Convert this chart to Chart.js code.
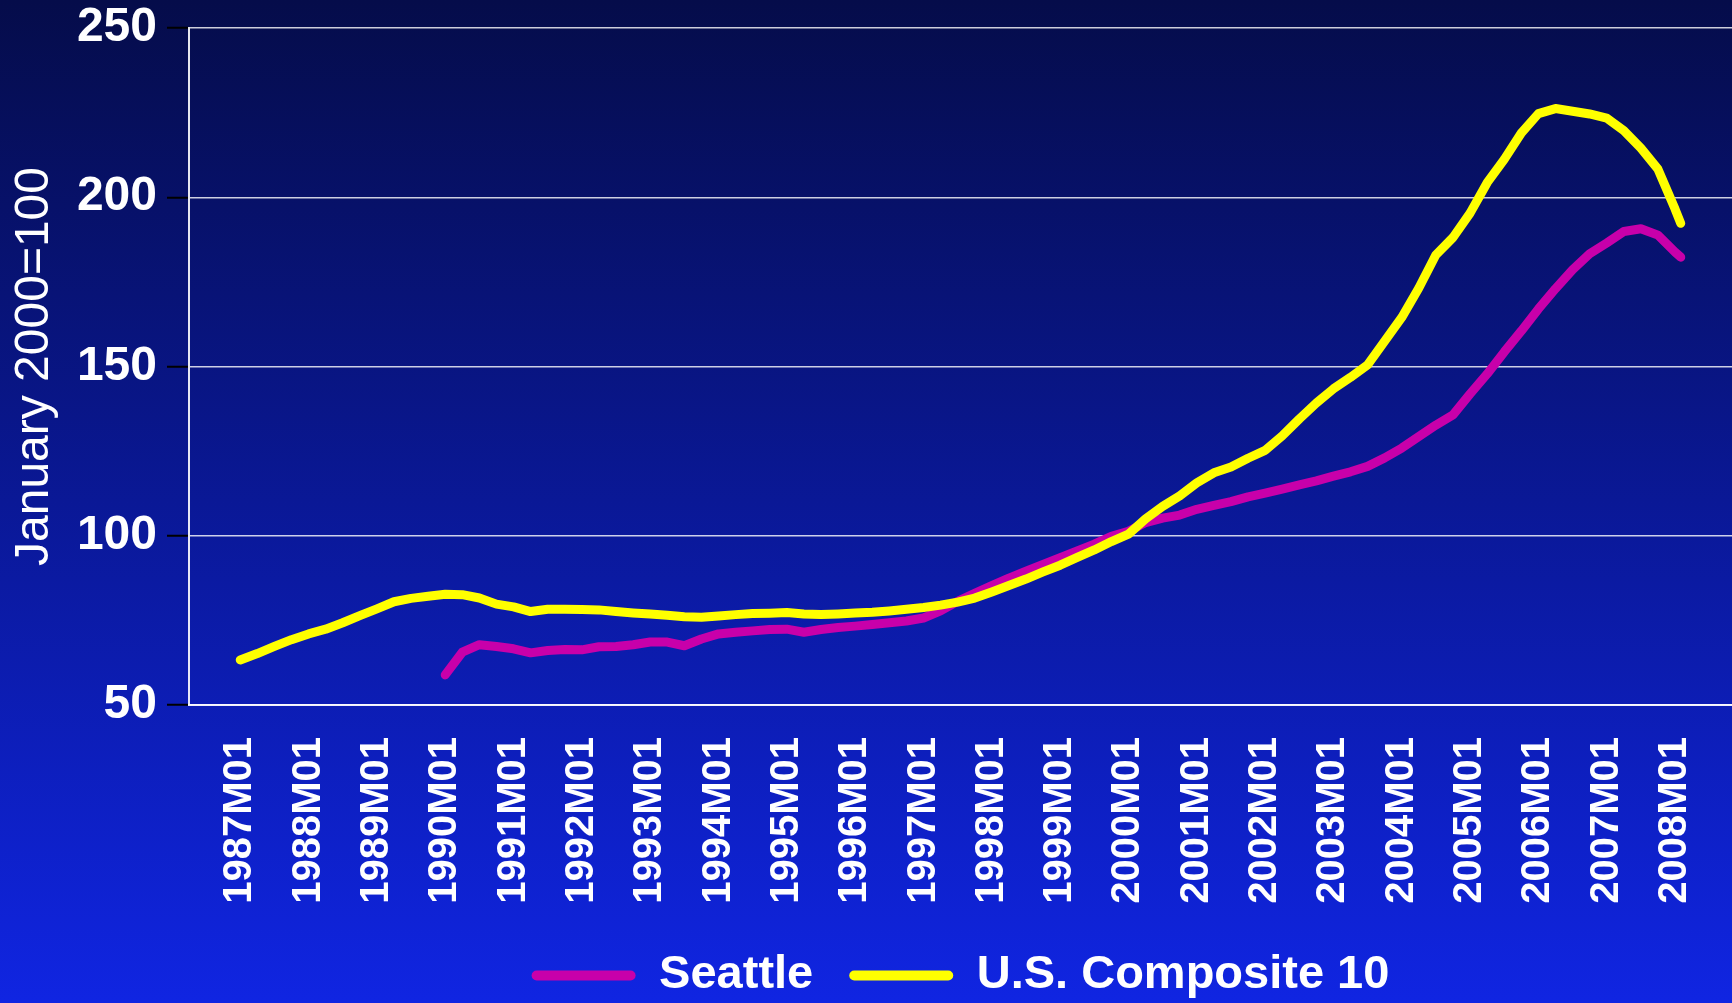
<!DOCTYPE html>
<html>
<head>
<meta charset="utf-8">
<script src="https://cdn.jsdelivr.net/npm/chart.js@4.4.1/dist/chart.umd.min.js"></script>
<style>
  html, body { margin: 0; padding: 0; }
  body {
    width: 1732px; height: 1003px; overflow: hidden;
    background: linear-gradient(to bottom, #050c4a 0%, #0a1896 50%, #1025e2 100%);
  }
  canvas { display: block; }
</style>
</head>
<body>
<canvas id="chart" width="1732" height="1003"></canvas>
<script>
// quarterly readings, plus the last month shown
const periods = [
  '1987M01','1987M04','1987M07','1987M10','1988M01','1988M04','1988M07','1988M10',
  '1989M01','1989M04','1989M07','1989M10','1990M01','1990M04','1990M07','1990M10',
  '1991M01','1991M04','1991M07','1991M10','1992M01','1992M04','1992M07','1992M10',
  '1993M01','1993M04','1993M07','1993M10','1994M01','1994M04','1994M07','1994M10',
  '1995M01','1995M04','1995M07','1995M10','1996M01','1996M04','1996M07','1996M10',
  '1997M01','1997M04','1997M07','1997M10','1998M01','1998M04','1998M07','1998M10',
  '1999M01','1999M04','1999M07','1999M10','2000M01','2000M04','2000M07','2000M10',
  '2001M01','2001M04','2001M07','2001M10','2002M01','2002M04','2002M07','2002M10',
  '2003M01','2003M04','2003M07','2003M10','2004M01','2004M04','2004M07','2004M10',
  '2005M01','2005M04','2005M07','2005M10','2006M01','2006M04','2006M07','2006M10',
  '2007M01','2007M04','2007M07','2007M10','2008M01','2008M02'
];

const seattle = [
  null, null, null, null, null, null, null, null, null, null, null, null,
  58.9, 65.6, 67.8, 67.3, 66.6, 65.4, 66.1, 66.4, 66.3, 67.2, 67.3, 67.8,
  68.6, 68.6, 67.5, 69.5, 71.0, 71.5, 71.9, 72.3, 72.4, 71.5, 72.3, 72.9,
  73.3, 73.8, 74.3, 74.8, 75.7, 77.8, 80.6, 83.0, 85.3, 87.5, 89.5, 91.5,
  93.5, 95.5, 97.5, 99.8, 101.3, 103.9, 105.2, 106.1, 107.8, 109.0, 110.1, 111.5,
  112.6, 113.8, 115.0, 116.2, 117.6, 118.9, 120.5, 123.0, 125.9, 129.3, 132.7, 135.7,
  141.9, 147.8, 154.3, 160.5, 167.0, 173.0, 178.6, 183.3, 186.5, 189.9, 190.7, 188.8,
  183.8, 182.3
];

const composite10 = [
  63.3, 65.2, 67.3, 69.3, 71.0, 72.4, 74.3, 76.4, 78.4, 80.5, 81.5, 82.1,
  82.7, 82.6, 81.6, 79.8, 79.0, 77.6, 78.3, 78.3, 78.2, 78.1, 77.6, 77.2,
  76.9, 76.5, 76.1, 75.9, 76.3, 76.7, 77.0, 77.1, 77.3, 76.9, 76.7, 76.9,
  77.2, 77.4, 77.8, 78.3, 78.8, 79.5, 80.4, 81.6, 83.4, 85.3, 87.2, 89.3,
  91.3, 93.6, 95.8, 98.3, 100.5, 105.0, 108.7, 111.8, 115.6, 118.6, 120.3, 122.9,
  125.2, 129.5, 134.5, 139.2, 143.4, 146.8, 150.5, 157.5, 164.5, 173.2, 183.0, 188.1,
  195.3, 204.3, 211.2, 219.0, 224.7, 226.2, 225.4, 224.6, 223.4, 219.7, 214.5, 208.3,
  196.5, 192.3
];

const yearLabels = [
  '1987M01','1988M01','1989M01','1990M01','1991M01','1992M01','1993M01','1994M01',
  '1995M01','1996M01','1997M01','1998M01','1999M01','2000M01','2001M01','2002M01',
  '2003M01','2004M01','2005M01','2006M01','2007M01','2008M01'
];
const yTicks = [50, 100, 150, 200, 250];

function monthIndex(p) {
  const parts = p.split('M');
  return (Number(parts[0]) - 1987) * 12 + (Number(parts[1]) - 1);
}
function points(values) {
  return periods.map((p, i) => ({ x: monthIndex(p), y: values[i] }));
}

const FONT = "'Liberation Sans', Arial, sans-serif";

new Chart(document.getElementById('chart'), {
  type: 'line',
  data: {
    datasets: [
      {
        label: 'Seattle',
        data: points(seattle),
        borderColor: '#c800aa',
        borderWidth: 9,
        borderCapStyle: 'round',
        borderJoinStyle: 'round',
        pointRadius: 0,
        order: 1
      },
      {
        label: 'U.S. Composite 10',
        data: points(composite10),
        borderColor: '#ffff00',
        borderWidth: 9,
        borderCapStyle: 'round',
        borderJoinStyle: 'round',
        pointRadius: 0,
        order: 0
      }
    ]
  },
  options: {
    responsive: false,
    animation: false,
    events: [],
    layout: { padding: { top: 28, left: 0, right: 0, bottom: 0 } },
    scales: {
      x: {
        type: 'linear',
        min: -9,
        max: 262,
        grid: { display: false, drawTicks: false, tickLength: 0 },
        border: { display: true, color: 'rgba(255,255,255,0.9)', width: 2 },
        afterBuildTicks: (scale) => {
          scale.ticks = yearLabels.map(l => ({ value: monthIndex(l) }));
        },
        afterFit: (scale) => {
          scale.height = 211;
          scale.paddingLeft = 0;
          scale.paddingRight = 0;
        },
        ticks: {
          autoSkip: false,
          maxRotation: 90,
          minRotation: 90,
          padding: 32,
          color: '#ffffff',
          font: { family: FONT, size: 40, weight: 'bold' },
          callback: (value) => {
            const hit = yearLabels.find(l => monthIndex(l) === value);
            return hit || '';
          }
        }
      },
      y: {
        min: 50,
        max: 250,
        afterBuildTicks: (scale) => {
          scale.ticks = yTicks.map(v => ({ value: v }));
        },
        afterFit: (scale) => {
          scale.width = 189;
          scale.paddingTop = 0;
          scale.paddingBottom = 0;
        },
        grid: {
          color: 'rgba(255,255,255,0.8)',
          lineWidth: 1.5,
          tickColor: '#000000',
          tickLength: 22,
          tickWidth: 2
        },
        border: { display: true, color: 'rgba(255,255,255,0.9)', width: 2 },
        ticks: {
          padding: 10,
          color: '#ffffff',
          font: { family: FONT, size: 48, weight: 'bold' }
        },
        title: {
          display: true,
          text: 'January 2000=100',
          color: '#ffffff',
          padding: { top: 6, bottom: 18 },
          font: { family: FONT, size: 48, weight: 'normal' }
        }
      }
    },
    plugins: {
      tooltip: { enabled: false },
      legend: {
        position: 'bottom',
        fullSize: false,
        maxHeight: 87,
        labels: {
          boxWidth: 104,
          boxHeight: 10,
          padding: 36,
          useBorderRadius: true,
          borderRadius: 5,
          color: '#ffffff',
          font: { family: FONT, size: 47, weight: 'bold' },
          generateLabels: (chart) => chart.data.datasets.map((ds, i) => ({
            text: ds.label,
            fillStyle: ds.borderColor,
            strokeStyle: ds.borderColor,
            lineWidth: 0,
            borderRadius: 5,
            fontColor: '#ffffff',
            hidden: false,
            datasetIndex: i
          }))
        }
      }
    }
  }
});
</script>
</body>
</html>
